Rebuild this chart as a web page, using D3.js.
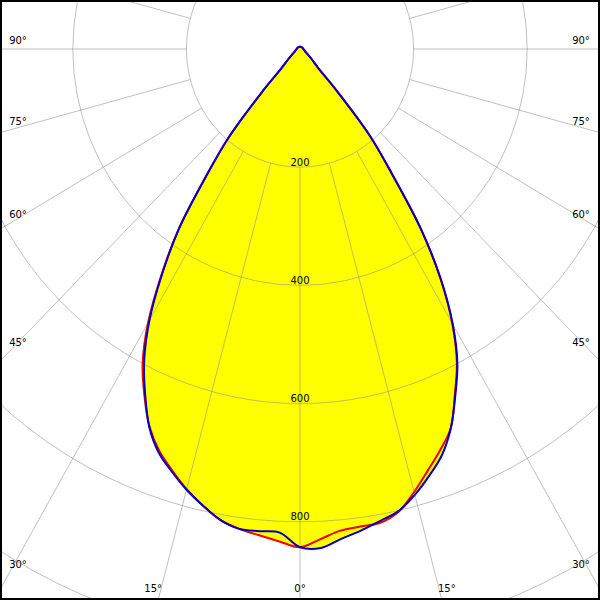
<!DOCTYPE html>
<html>
<head>
<meta charset="utf-8">
<script src="https://cdn.jsdelivr.net/npm/d3@7"></script>
<style>
  html, body { margin: 0; padding: 0; background: #fff; }
  svg { display: block; }
  text { font-family: "DejaVu Sans", sans-serif; font-size: 10px; fill: #000; }
</style>
</head>
<body>
<script>
// ---- data (candela values) ----
const gammas     = [0,2.5,5,7.5,10,12.5,15,17.5,20,22.5,25,27.5,30,32.5,35,37.5,40,42.5,45,50,55,60,70,80,90,105,120,135,150,165,180];
const redLeft    = [843,834,826,819,809,791,771,748,724,692,648,600,535,455,373,272,195,100,47,27,18,13,9,7,6,5,5,4,4,4,4];
const redRight   = [843,830,818,815,814,802,776,748,722,694,645,598,536,460,370,265,190,95,45,27,18,13,9,7,6,5,5,4,4,4,4];
const blueLeft   = [843,819,819,819,809,791,772,750,727,693,645,594,530,452,372,272,195,100,47,27,18,13,9,7,6,5,5,4,4,4,4];
const blueRight  = [843,845,832,822,811,801,781,757,731,694,647,600,538,461,370,265,190,95,45,27,18,13,9,7,6,5,5,4,4,4,4];
const ringValues = [200,400,600,800,1000,1200,1400];
const ringLabels = [200,400,600,800];
const spokeAngles = d3.range(0, 360, 15);
const leftLabels  = [90,75,60,45,30];
const bottomLabels = [-15,0,15];
const rightLabels = [30,45,60,75,90];

// ---- layout ----
const W = 600, H = 600;
const cx = 300, cy = 49;
const rX = d3.scaleLinear().domain([0,1000]).range([0,568]);
const rY = d3.scaleLinear().domain([0,1000]).range([0,591]);
const rad = d => d * Math.PI / 180;
// g: signed angle from nadir (positive = right side)
const pt = (g, v) => [cx + rX(v) * Math.sin(rad(g)), cy + rY(v) * Math.cos(rad(g))];

const svg = d3.select("body").append("svg").attr("width", W).attr("height", H);
svg.append("rect").attr("width", W).attr("height", H).attr("fill", "#fff");

function curvePoints(left, right) {
  const pts = [];
  for (let i = gammas.length - 1; i >= 0; i--) pts.push(pt(-gammas[i], left[i]));
  for (let i = 1; i < gammas.length; i++) pts.push(pt(gammas[i], right[i]));
  return pts;
}
const redPts = curvePoints(redLeft, redRight);
const bluePts = curvePoints(blueLeft, blueRight);
const line = d3.line().curve(d3.curveCatmullRomClosed.alpha(0.5));

// fills
svg.append("path").attr("d", line(redPts)).attr("fill", "#ffff00");
svg.append("path").attr("d", line(bluePts)).attr("fill", "#ffff00");

// grid
const grid = svg.append("g").attr("fill", "none").attr("stroke", "#8c8c8c").attr("stroke-opacity", 0.55).attr("stroke-width", 1);
grid.selectAll("ellipse").data(ringValues).join("ellipse")
  .attr("cx", cx).attr("cy", cy).attr("rx", d => rX(d)).attr("ry", d => rY(d));
grid.selectAll("line").data(spokeAngles).join("line")
  .attr("x1", a => pt(a, 200)[0]).attr("y1", a => pt(a, 200)[1])
  .attr("x2", a => pt(a, 1500)[0]).attr("y2", a => pt(a, 1500)[1]);

// curves
svg.append("path").attr("d", line(redPts)).attr("fill", "none").attr("stroke", "#ee0000").attr("stroke-width", 2).attr("stroke-linejoin", "round");
svg.append("path").attr("d", line(bluePts)).attr("fill", "none").attr("stroke", "#0000c8").attr("stroke-width", 2).attr("stroke-linejoin", "round");

// ring labels
svg.selectAll("text.ring").data(ringLabels).join("text").attr("class", "ring")
  .attr("x", cx).attr("y", d => cy + rY(d) - 1.5).attr("text-anchor", "middle").text(d => d);

// angle labels
function sideY(g, xEdge) {
  const dx = Math.sin(rad(g)) * rX(1), dy = Math.cos(rad(g)) * rY(1);
  return cy + (Math.abs(xEdge - cx) / Math.abs(dx)) * dy;
}
svg.selectAll("text.l").data(leftLabels).join("text").attr("class", "l")
  .attr("x", 18).attr("y", a => sideY(-a, 9) - 9).attr("dy", "0.35em").attr("text-anchor", "middle").text(a => a + "°");
svg.selectAll("text.r").data(rightLabels).join("text").attr("class", "r")
  .attr("x", 581).attr("y", a => sideY(a, 591) - 9).attr("dy", "0.35em").attr("text-anchor", "middle").text(a => a + "°");
svg.selectAll("text.b").data(bottomLabels).join("text").attr("class", "b")
  .attr("x", a => {
    const dx = Math.sin(rad(a)) * rX(1), dy = Math.cos(rad(a)) * rY(1);
    const xi = cx + (588 - cy) / dy * dx;
    return xi + Math.sign(a) * 8;
  })
  .attr("y", 588).attr("dy", "0.35em").attr("text-anchor", "middle").text(a => Math.abs(a) + "°");

// border
svg.append("rect").attr("x", 1).attr("y", 1).attr("width", W - 2).attr("height", H - 2)
  .attr("fill", "none").attr("stroke", "#000").attr("stroke-width", 2);
</script>
</body>
</html>
